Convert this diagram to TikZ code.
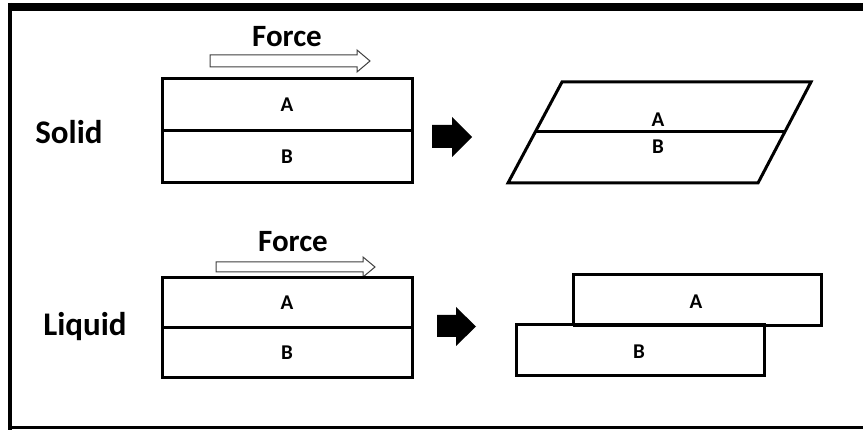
\documentclass[tikz,border=0pt]{standalone}
\usepackage{fontspec}
\setmainfont{Carlito}
\begin{document}
\begin{tikzpicture}[x=1pt,y=-1pt,
  layer/.style={draw=black,line width=3pt,minimum width=250pt,inner sep=0pt,outer sep=0pt},
  lbl/.style={font=\bfseries\fontsize{21}{23}\selectfont,inner sep=0pt},
  big/.style={font=\bfseries\fontsize{33}{36}\selectfont,inner sep=0pt},
  forcelbl/.style={font=\bfseries\fontsize{31}{34}\selectfont,inner sep=0pt},
  force/.style={draw=black!75,line width=1pt,fill=white},
  blockarrow/.style={fill=black,draw=none},
  frameline/.style={draw=black,line cap=butt}]
\useasboundingbox (0,0) rectangle (863,430);
% outer frame
\draw[frameline,line width=8pt] (8,7) -- (863,7);
\draw[frameline,line width=4pt] (10,3) -- (10,430);
\draw[frameline,line width=3pt] (8,428) -- (863,428);

% ---- Solid row
\node[big] (solid) at (69,132) {Solid};
\node[forcelbl] (force1) at (287,37) {Force};
\draw[force] (210,55) -- (357,55) -- (357,50) -- (370,61) -- (357,72) -- (357,67) -- (210,67) -- cycle;
\node[layer,minimum height=52pt,anchor=north west] (sA) at (162,79) {};
\node[layer,minimum height=52pt,anchor=north west] (sB) at (162,131) {};
\node[lbl] at (sA.center) {A};
\node[lbl] at (sB.center) {B};
\draw[blockarrow] (432,125) -- (452,125) -- (452,117) -- (472,137) -- (452,157) -- (452,148) -- (432,148) -- cycle;
% parallelogram
\coordinate (p1) at (562,82);
\coordinate (p2) at (811,82);
\coordinate (p3) at (758,183);
\coordinate (p4) at (508,183);
\coordinate (m1) at (535,132);
\coordinate (m2) at (784,132);
\draw[line width=3pt,line join=miter] (p1) -- (p2) -- (p3) -- (p4) -- cycle;
\draw[line width=3pt] (m1) -- (m2);
\node[lbl] (pA) at (658,120) {A};
\node[lbl] (pB) at (658,147) {B};

% ---- Liquid row
\node[big] (liquid) at (85,327) {Liquid};
\node[forcelbl] (force2) at (293,242) {Force};
\draw[force] (216,262) -- (363,262) -- (363,257) -- (375,267) -- (363,277) -- (363,272) -- (216,272) -- cycle;
\node[layer,minimum height=50pt,anchor=north west] (lA) at (162,278) {};
\node[layer,minimum height=50pt,anchor=north west] (lB) at (162,328) {};
\node[lbl] at (lA.center) {A};
\node[lbl] at (lB.center) {B};
\draw[blockarrow] (437,315) -- (456,315) -- (456,307) -- (476,326.5) -- (456,346) -- (456,337) -- (437,337) -- cycle;
\node[layer,minimum width=248pt,minimum height=51pt,anchor=north west] (rA) at (573,275) {};
\node[layer,minimum width=248pt,minimum height=51pt,anchor=north west,fill=white] (rB) at (516,325) {};
\draw[line width=3pt] (rA.south west) -- (rA.north west) -- (rA.north east) -- (rA.south east) -- (rA.south west);
\node[lbl] at (696,302) {A};
\node[lbl] at (639,352) {B};
\end{tikzpicture}
\end{document}
